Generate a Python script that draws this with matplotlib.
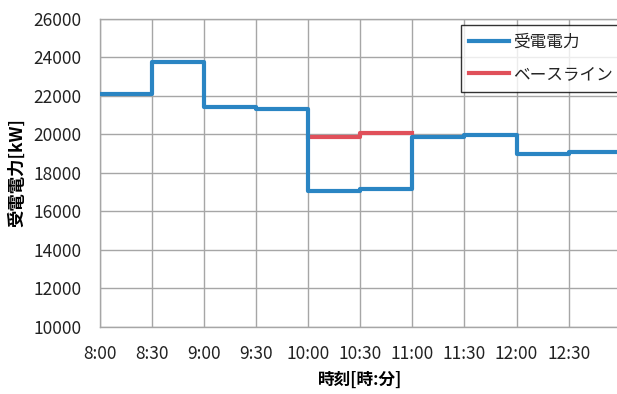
import matplotlib
matplotlib.use("Agg")
import matplotlib.pyplot as plt

# Data (minutes after 8:00, step-wise half-hour values)
times = [0, 30, 60, 90, 120, 150, 180, 210, 240, 270]
power = [22080, 23760, 21430, 21300, 17030, 17130, 19830, 19930, 18970, 19090]
base_times = [120, 150]
baseline = [19840, 20040]
tick_labels = ["8:00", "8:30", "9:00", "9:30", "10:00", "10:30", "11:00", "11:30", "12:00", "12:30"]

plt.rcParams['font.family'] = ['Noto Sans CJK JP', 'DejaVu Sans']

fig = plt.figure(figsize=(6.17, 3.94), dpi=100)
W, H = 617, 394
left, right, top, bottom = 99.7, 620.8, 18.7, 326.5
ax = fig.add_axes([left / W, 1 - bottom / H, (right - left) / W, (bottom - top) / H])

blue = '#2a85c3'
red = '#e0505a'

ax.plot(times + [300], power + [power[-1]], drawstyle='steps-post', color=blue, lw=3.0,
        label='受電電力', zorder=3)
ax.plot(base_times + [180], baseline + [baseline[-1]], drawstyle='steps-post', color=red, lw=3.0,
        label='ベースライン', zorder=2)

ax.set_xlim(0, 300)
ax.set_ylim(10000, 26000)
ax.set_xticks(times)
ax.set_xticklabels(tick_labels)
ax.set_yticks(range(10000, 26001, 2000))

gridc = '#a6a6a6'
ax.grid(True, color=gridc, lw=1.0)
ax.set_axisbelow(True)
for s in ax.spines.values():
    s.set_color(gridc)
    s.set_linewidth(1.0)
ax.tick_params(axis='both', length=0, labelsize=12.5, colors='#222222')
ax.tick_params(axis='x', pad=13)
ax.tick_params(axis='y', pad=13)

ax.set_ylabel('受電電力[kW]', fontsize=12.5, fontweight='bold', labelpad=5)
ax.set_xlabel('時刻[時:分]', fontsize=12, fontweight='bold', labelpad=6)

leg = ax.legend(loc='upper left', bbox_to_anchor=((461 - left) / (right - left), 1 - (25 - top) / (bottom - top)),
                frameon=True, fancybox=False, edgecolor='#000000', fontsize=12,
                handlelength=2.4, handletextpad=0.2, borderpad=0.5, labelspacing=0.95,
                borderaxespad=0)
leg.get_frame().set_linewidth(1.0)
for t in leg.get_texts():
    t.set_color('#222222')

fig.savefig('out.png', dpi=100)
